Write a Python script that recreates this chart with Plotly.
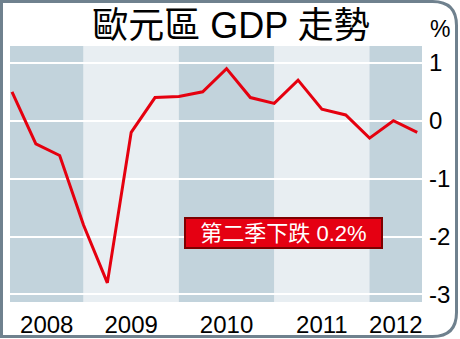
import plotly.graph_objects as go

# ---- data ----
quarters = ["2008Q1", "2008Q2", "2008Q3", "2008Q4",
            "2009Q1", "2009Q2", "2009Q3", "2009Q4",
            "2010Q1", "2010Q2", "2010Q3", "2010Q4",
            "2011Q1", "2011Q2", "2011Q3", "2011Q4",
            "2012Q1", "2012Q2"]
gdp_growth = [0.5, -0.4, -0.6, -1.8,
              -2.8, -0.2, 0.4, 0.42,
              0.5, 0.9, 0.4, 0.3,
              0.7, 0.2, 0.1, -0.3,
              0.0, -0.2]
year_labels = ["2008", "2009", "2010", "2011", "2012"]
y_ticks = [1, 0, -1, -2, -3]
y_ticktext = ["1", "0", "-1", "-2", "-3"]
title_text = "歐元區 GDP 走勢"
unit_text = "%"
note_text = "第二季下跌 0.2%"

# ---- layout geometry ----
W, H = 460, 339
ML, MR, MT, MB = 10, 38, 46, 37
PW, PH = W - ML - MR, H - MT - MB

xidx = list(range(len(quarters)))
x_lo, x_hi = -0.084, 17.2
y_lo, y_hi = -3.13, 1.29

# year bands: boundaries at Q4 points of each year
band_edges = [x_lo, 3, 7, 11, 15, x_hi]
band_colors = ["#c2d3dc", "#e8eef2"]
year_pos = [(band_edges[i] + band_edges[i + 1]) / 2 for i in range(len(year_labels))]

def px(x, y):
    return ((x - ML) / PW, (H - MB - y) / PH)

shapes = []
for i in range(len(year_labels)):
    shapes.append(dict(type="rect", xref="x", yref="paper",
                       x0=band_edges[i], x1=band_edges[i + 1], y0=0, y1=1,
                       fillcolor=band_colors[i % 2], line=dict(width=0), layer="below"))

# outer frame with rounded right corners
r = 24
L, T, R, B = 1.5, 1.5, 456.5, 336.5
def P(x, y):
    a, b = px(x, y)
    return f"{a:.5f},{b:.5f}"
path = (f"M{P(L, T)} L{P(R - r, T)} Q{P(R, T)} {P(R, T + r)} "
        f"L{P(R, B - r)} Q{P(R, B)} {P(R - r, B)} L{P(L, B)} Z")
shapes.append(dict(type="path", xref="paper", yref="paper", path=path,
                   line=dict(color="#6f818e", width=3), layer="above"))

fig = go.Figure()
fig.add_trace(go.Scatter(x=xidx, y=gdp_growth, mode="lines",
                         line=dict(color="#e5000f", width=3), hoverinfo="skip"))

font_main = "Liberation Sans, Arial, Noto Sans CJK TC, sans-serif"

ux, uy = px(428, 29)
annotations = [
    dict(text=unit_text, xref="paper", yref="paper", x=ux, y=uy,
         xanchor="left", yanchor="middle", showarrow=False,
         font=dict(size=23, color="black", family=font_main)),
    dict(text=note_text, xref="x", yref="y", x=11.39, y=-1.94,
         xanchor="center", yanchor="middle", showarrow=False,
         bgcolor="#e50012", bordercolor="#7d0000", borderwidth=2,
         borderpad=2, width=191, height=24,
         font=dict(size=22, color="white", family="Liberation Sans, Noto Sans CJK TC, sans-serif")),
]

fig.update_layout(
    width=W, height=H,
    margin=dict(l=ML, r=MR, t=MT, b=MB, autoexpand=False),
    paper_bgcolor="white", plot_bgcolor="#e8eef2",
    showlegend=False,
    title=dict(text=title_text, x=231 / W, xanchor="center", xref="container",
               y=(H - 25) / H, yanchor="middle", yref="container",
               font=dict(size=36, color="black", family="Liberation Sans, Noto Sans CJK TC, sans-serif")),
    xaxis=dict(range=[x_lo, x_hi], tickvals=year_pos, ticktext=year_labels,
               showgrid=False, zeroline=False, showline=False, ticks="",
               ticklabelstandoff=6, automargin=False,
               tickfont=dict(size=24, color="black", family=font_main)),
    yaxis=dict(range=[y_lo, y_hi], side="right", tickvals=y_ticks, ticktext=y_ticktext,
               showgrid=True, gridcolor="white", gridwidth=2,
               zeroline=False, showline=False, ticks="",
               ticklabelstandoff=6, automargin=False,
               tickfont=dict(size=24, color="black", family=font_main)),
    shapes=shapes,
    annotations=annotations,
)

fig.write_html("out.html")
